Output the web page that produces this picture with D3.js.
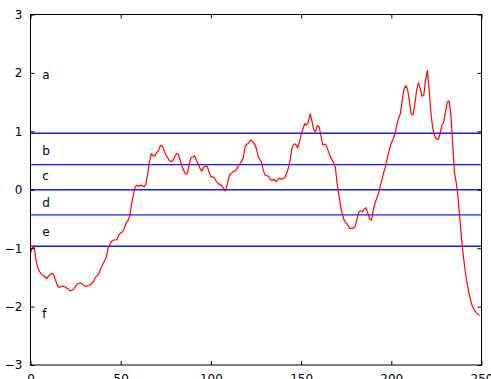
<!DOCTYPE html>
<html>
<head>
<meta charset="utf-8">
<script src="https://cdn.jsdelivr.net/npm/d3@7"></script>
<style>
  html, body { margin: 0; padding: 0; background: #fff; }
  svg { display: block; font-family: "DejaVu Sans", sans-serif; }
</style>
</head>
<body>
<svg id="chart" width="491" height="379"></svg>
<script>
// Series: one value per step, 0..249
const seriesValues = [
  -1.08, -1.00, -0.96, -1.20, -1.33, -1.40, -1.44, -1.47, -1.49, -1.52,
  -1.48, -1.45, -1.43, -1.47, -1.56, -1.64, -1.67, -1.66, -1.65, -1.66,
  -1.68, -1.70, -1.73, -1.72, -1.70, -1.65, -1.61, -1.60, -1.60, -1.62,
  -1.65, -1.65, -1.64, -1.63, -1.60, -1.57, -1.50, -1.47, -1.43, -1.34,
  -1.29, -1.22, -1.16, -1.00, -0.94, -0.88, -0.86, -0.86, -0.85, -0.77,
  -0.74, -0.72, -0.66, -0.57, -0.53, -0.45, -0.25, -0.10, 0.05, 0.08,
  0.06, 0.08, 0.07, 0.05, 0.10, 0.28, 0.48, 0.62, 0.58, 0.58,
  0.64, 0.67, 0.76, 0.75, 0.68, 0.60, 0.55, 0.50, 0.48, 0.51,
  0.57, 0.62, 0.60, 0.50, 0.40, 0.33, 0.27, 0.28, 0.45, 0.55,
  0.56, 0.58, 0.50, 0.44, 0.36, 0.32, 0.39, 0.40, 0.40, 0.30,
  0.22, 0.22, 0.20, 0.14, 0.11, 0.09, 0.07, 0.02, -0.02, 0.08,
  0.22, 0.28, 0.30, 0.32, 0.34, 0.40, 0.44, 0.49, 0.55, 0.74,
  0.78, 0.80, 0.85, 0.83, 0.79, 0.73, 0.60, 0.52, 0.48, 0.34,
  0.25, 0.24, 0.23, 0.17, 0.16, 0.18, 0.14, 0.17, 0.20, 0.18,
  0.19, 0.21, 0.28, 0.38, 0.52, 0.72, 0.78, 0.78, 0.72, 0.80,
  0.95, 1.04, 1.13, 1.11, 1.16, 1.30, 1.18, 1.03, 0.99, 1.10,
  1.08, 0.92, 0.77, 0.78, 0.76, 0.67, 0.58, 0.52, 0.46, 0.38,
  0.10, -0.10, -0.30, -0.44, -0.53, -0.57, -0.61, -0.66, -0.66, -0.66,
  -0.63, -0.50, -0.38, -0.36, -0.38, -0.33, -0.31, -0.40, -0.50, -0.52,
  -0.35, -0.23, -0.14, -0.06, 0.08, 0.20, 0.32, 0.42, 0.57, 0.70,
  0.80, 0.87, 0.95, 1.10, 1.22, 1.30, 1.52, 1.72, 1.78, 1.72,
  1.52, 1.30, 1.28, 1.45, 1.70, 1.83, 1.74, 1.60, 1.62, 1.88,
  2.04, 1.70, 1.30, 1.05, 0.92, 0.87, 0.86, 0.95, 1.10, 1.16,
  1.32, 1.50, 1.52, 1.30, 0.80, 0.30, 0.12, -0.12, -0.50, -0.85,
  -1.15, -1.40, -1.60, -1.76, -1.90, -2.00, -2.06, -2.10, -2.13, -2.15
];

// Horizontal reference levels (band boundaries)
const levelValues = [0.967, 0.431, 0, -0.431, -0.967];

// Band names and the heights they sit at
const bandNames = ["a", "b", "c", "d", "e", "f"];
const bandLabelY = [1.96, 0.66, 0.22, -0.23, -0.73, -2.14];
const bandLabelX = 6.5;

// Tick labels
const xTickValues = [0, 50, 100, 150, 200, 250];
const yTickValues = [-3, -2, -1, 0, 1, 2, 3];

const xDomain = [0, 250];
const yDomain = [-3, 3];

const plot = { left: 30.5, right: 481.5, top: 14.5, bottom: 365 };

const svg = d3.select("#chart");

const x = d3.scaleLinear().domain(xDomain).range([plot.left, plot.right]);
const y = d3.scaleLinear().domain(yDomain).range([plot.bottom, plot.top]);

const fmt = d => (d < 0 ? "\u2212" + Math.abs(d) : String(d));

svg.append("defs").append("clipPath").attr("id", "plot-clip")
  .append("rect")
  .attr("x", plot.left).attr("y", plot.top)
  .attr("width", plot.right - plot.left).attr("height", plot.bottom - plot.top);

const inner = svg.append("g").attr("clip-path", "url(#plot-clip)");

// Blue band boundaries
inner.selectAll("line.level")
  .data(levelValues)
  .join("line")
  .attr("class", "level")
  .attr("x1", x(xDomain[0])).attr("x2", x(xDomain[1]))
  .attr("y1", d => y(d)).attr("y2", d => y(d))
  .attr("stroke", "#1a1aff")
  .attr("stroke-width", 1.3);

// Red series line
const line = d3.line()
  .x((d, i) => x(i))
  .y(d => y(d));

inner.append("path")
  .datum(seriesValues)
  .attr("d", line)
  .attr("fill", "none")
  .attr("stroke", "#ff0000")
  .attr("stroke-width", 1.2)
  .attr("stroke-linejoin", "round");

// Band labels
svg.selectAll("text.band")
  .data(bandNames)
  .join("text")
  .attr("class", "band")
  .attr("x", x(bandLabelX))
  .attr("y", (d, i) => y(bandLabelY[i]))
  .attr("dy", "0.3em")
  .attr("font-size", 12)
  .attr("fill", "#000")
  .text(d => d);

// Axes with inward ticks on all four sides
const tickLen = 4;
const axisBottom = d3.axisBottom(x).tickValues(xTickValues).tickSizeInner(-tickLen).tickSizeOuter(0).tickPadding(tickLen + 5).tickFormat(fmt);
const axisTop = d3.axisTop(x).tickValues(xTickValues).tickSizeInner(-tickLen).tickSizeOuter(0).tickFormat("");
const axisLeft = d3.axisLeft(y).tickValues(yTickValues).tickSizeInner(-tickLen).tickSizeOuter(0).tickPadding(tickLen + 4).tickFormat(fmt);
const axisRight = d3.axisRight(y).tickValues(yTickValues).tickSizeInner(-tickLen).tickSizeOuter(0).tickFormat("");

function styleAxis(g) {
  g.select(".domain").remove();
  g.selectAll(".tick line").attr("stroke", "#000").attr("stroke-width", 1);
  g.selectAll(".tick text").attr("fill", "#000").attr("font-size", 12)
    .attr("font-family", "DejaVu Sans, sans-serif");
}

svg.append("g").attr("transform", `translate(0,${plot.bottom})`).call(axisBottom).call(styleAxis);
svg.append("g").attr("transform", `translate(0,${plot.top})`).call(axisTop).call(styleAxis);
svg.append("g").attr("transform", `translate(${plot.left},0)`).call(axisLeft).call(styleAxis);
svg.append("g").attr("transform", `translate(${plot.right},0)`).call(axisRight).call(styleAxis);

// Frame
svg.append("rect")
  .attr("x", plot.left).attr("y", plot.top)
  .attr("width", plot.right - plot.left).attr("height", plot.bottom - plot.top)
  .attr("fill", "none")
  .attr("stroke", "#000")
  .attr("stroke-width", 1);
</script>
</body>
</html>
